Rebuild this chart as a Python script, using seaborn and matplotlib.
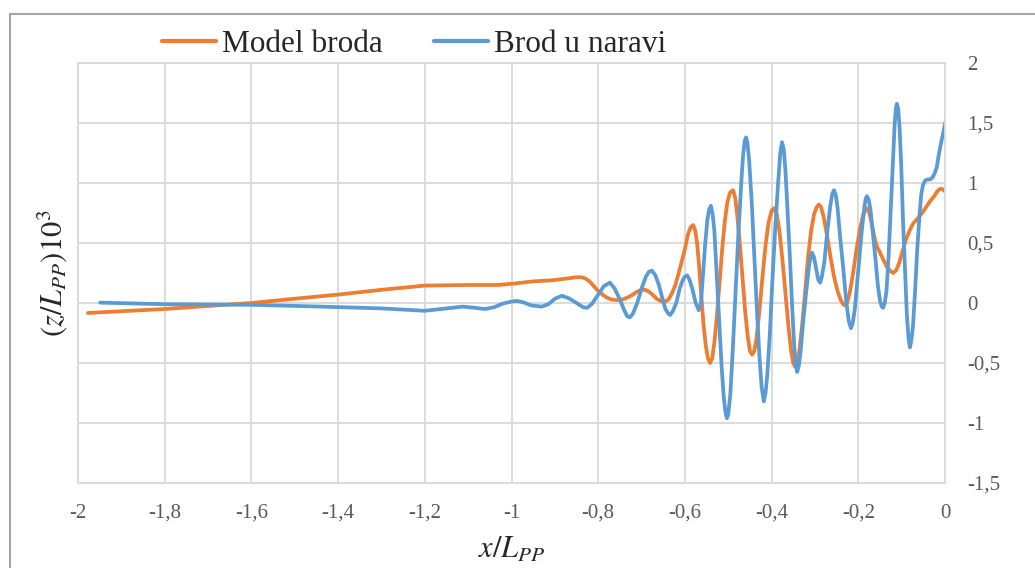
import pandas as pd
import matplotlib
matplotlib.use("Agg")
import matplotlib.pyplot as plt
import seaborn as sns
from matplotlib.patches import Rectangle

# Model broda (orange)
model_x = [-1.977, -1.8, -1.6, -1.488, -1.4, -1.3, -1.2, -1.1, -1.033, -1.0, -0.95, -0.904,
           -0.87, -0.85, -0.84, -0.83, -0.82, -0.81, -0.8, -0.79, -0.78, -0.77, -0.76, -0.75,
           -0.743, -0.73, -0.72, -0.71, -0.70, -0.692, -0.683, -0.675, -0.665, -0.655,
           -0.646, -0.638, -0.63, -0.622, -0.615, -0.607, -0.6, -0.593, -0.587, -0.581,
           -0.576, -0.572, -0.567, -0.562, -0.557, -0.552, -0.547, -0.542, -0.537, -0.532,
           -0.526, -0.52, -0.514, -0.508, -0.502, -0.496, -0.489, -0.484, -0.479, -0.473,
           -0.467, -0.461, -0.455, -0.45, -0.445, -0.44, -0.435, -0.428, -0.421, -0.414,
           -0.407, -0.4, -0.394, -0.388, -0.382, -0.375, -0.368, -0.361, -0.355, -0.35,
           -0.346, -0.341, -0.336, -0.33, -0.323, -0.316, -0.309, -0.302, -0.296, -0.291,
           -0.286, -0.28, -0.272, -0.264, -0.256, -0.248, -0.24, -0.235, -0.231, -0.226,
           -0.22, -0.212, -0.204, -0.196, -0.189, -0.183, -0.18, -0.176, -0.17, -0.163,
           -0.157, -0.15, -0.142, -0.134, -0.127, -0.12, -0.113, -0.106, -0.099, -0.09,
           -0.082, -0.074, -0.064, -0.055, -0.047, -0.04, -0.032, -0.025, -0.018, -0.012,
           -0.006, 0.0]
model_y = [-0.083, -0.05, 0.0, 0.04, 0.07, 0.11, 0.145, 0.15, 0.15, 0.16, 0.18, 0.19,
           0.205, 0.215, 0.215, 0.205, 0.18, 0.14, 0.1, 0.07, 0.045, 0.03, 0.025, 0.025,
           0.03, 0.05, 0.07, 0.095, 0.11, 0.11, 0.095, 0.07, 0.035, 0.015,
           0.01, 0.03, 0.08, 0.15, 0.24, 0.35, 0.45, 0.57, 0.63, 0.65,
           0.6, 0.5, 0.3, 0.05, -0.18, -0.35, -0.46, -0.5, -0.46, -0.33,
           -0.1, 0.18, 0.45, 0.68, 0.84, 0.92, 0.94, 0.88, 0.72, 0.48,
           0.2, -0.07, -0.28, -0.4, -0.43, -0.4, -0.3, -0.06, 0.22, 0.48,
           0.67, 0.77, 0.79, 0.74, 0.6, 0.36, 0.08, -0.2, -0.4, -0.5,
           -0.53, -0.5, -0.4, -0.2, 0.08, 0.38, 0.6, 0.74, 0.8, 0.82,
           0.8, 0.72, 0.56, 0.38, 0.22, 0.1, 0.02, -0.01, -0.02, 0.0,
           0.08, 0.25, 0.45, 0.62, 0.73, 0.78, 0.79, 0.77, 0.68, 0.55,
           0.47, 0.42, 0.36, 0.3, 0.27, 0.25, 0.27, 0.33, 0.42, 0.53,
           0.6, 0.66, 0.7, 0.74, 0.78, 0.82, 0.86, 0.89, 0.93, 0.95,
           0.95, 0.93]

# Brod u naravi (blue)
ship_x = [-1.949, -1.8, -1.6, -1.44, -1.3, -1.2, -1.15, -1.112, -1.085, -1.061, -1.04,
          -1.02, -1.0, -0.987, -0.972, -0.955, -0.93, -0.915, -0.9, -0.884, -0.868, -0.85,
          -0.835, -0.826, -0.815, -0.8, -0.787, -0.773, -0.762, -0.75, -0.74, -0.733,
          -0.727, -0.72, -0.71, -0.70, -0.69, -0.683, -0.676, -0.668, -0.66, -0.652,
          -0.645, -0.638, -0.634, -0.628, -0.62, -0.612, -0.605, -0.6, -0.595, -0.59,
          -0.583, -0.575, -0.568, -0.563, -0.558, -0.553, -0.548, -0.544, -0.54, -0.536,
          -0.532, -0.526, -0.52, -0.515, -0.51, -0.506, -0.503, -0.5, -0.495, -0.489,
          -0.483, -0.477, -0.47, -0.466, -0.462, -0.459, -0.456, -0.452, -0.446, -0.44,
          -0.434, -0.428, -0.423, -0.418, -0.414, -0.41, -0.404, -0.398, -0.392, -0.385,
          -0.38, -0.376, -0.372, -0.368, -0.363, -0.358, -0.353, -0.348, -0.344, -0.341,
          -0.337, -0.333, -0.327, -0.32, -0.313, -0.307, -0.302, -0.297, -0.292, -0.288,
          -0.284, -0.278, -0.272, -0.265, -0.26, -0.256, -0.252, -0.248, -0.242, -0.235,
          -0.228, -0.222, -0.217, -0.213, -0.208, -0.203, -0.198, -0.192, -0.186, -0.183,
          -0.18, -0.176, -0.172, -0.166, -0.16, -0.155, -0.15, -0.146, -0.143, -0.139,
          -0.135, -0.13, -0.125, -0.12, -0.116, -0.113, -0.111, -0.108, -0.105, -0.101,
          -0.097, -0.092, -0.088, -0.084, -0.081, -0.078, -0.074, -0.069, -0.064, -0.059,
          -0.055, -0.051, -0.046, -0.04, -0.034, -0.028, -0.023, -0.019, -0.015, -0.01,
          -0.004, 0.002]
ship_y = [0.003, -0.01, -0.015, -0.03, -0.045, -0.065, -0.045, -0.03, -0.04, -0.05, -0.035,
          -0.005, 0.012, 0.017, 0.005, -0.02, -0.03, -0.01, 0.035, 0.06, 0.04, 0.0,
          -0.035, -0.04, -0.01, 0.07, 0.14, 0.17, 0.12, 0.03, -0.06, -0.11,
          -0.12, -0.09, 0.0, 0.12, 0.22, 0.26, 0.27, 0.23, 0.15, 0.04,
          -0.05, -0.09, -0.1, -0.07, 0.0, 0.12, 0.19, 0.22, 0.23, 0.2,
          0.12, 0.0, -0.06, 0.0, 0.25, 0.5, 0.7, 0.78, 0.81, 0.74,
          0.6, 0.2, -0.2, -0.55, -0.8, -0.92, -0.96, -0.93, -0.75, -0.35,
          0.1, 0.55, 1.0, 1.22, 1.35, 1.38, 1.34, 1.2, 0.85, 0.4,
          -0.05, -0.45, -0.7, -0.82, -0.75, -0.6, -0.25, 0.2, 0.6, 1.0,
          1.25, 1.34, 1.28, 1.1, 0.75, 0.4, 0.0, -0.35, -0.52, -0.575,
          -0.52, -0.4, -0.15, 0.1, 0.33, 0.42, 0.38, 0.28, 0.19, 0.17,
          0.22, 0.35, 0.58, 0.8, 0.91, 0.94, 0.9, 0.8, 0.55, 0.3,
          0.02, -0.15, -0.21, -0.17, -0.05, 0.15, 0.35, 0.6, 0.8, 0.87,
          0.89, 0.86, 0.78, 0.57, 0.35, 0.15, 0.02, -0.03, -0.04, 0.0,
          0.1, 0.4, 0.8, 1.2, 1.5, 1.63, 1.66, 1.62, 1.48, 1.15,
          0.7, 0.25, -0.1, -0.3, -0.37, -0.32, -0.2, 0.1, 0.45, 0.72,
          0.9, 0.98, 1.02, 1.03, 1.03, 1.05, 1.09, 1.13, 1.22, 1.32,
          1.42, 1.52]

series_names = ["Model broda", "Brod u naravi"]
x_ticks = [-2, -1.8, -1.6, -1.4, -1.2, -1, -0.8, -0.6, -0.4, -0.2, 0]
x_tick_labels = ["-2", "-1,8", "-1,6", "-1,4", "-1,2", "-1", "-0,8", "-0,6", "-0,4", "-0,2", "0"]
y_ticks = [-1.5, -1, -0.5, 0, 0.5, 1, 1.5, 2]
y_tick_labels = ["-1,5", "-1", "-0,5", "0", "0,5", "1", "1,5", "2"]

df = pd.concat([
    pd.DataFrame({"x": model_x, "y": model_y, "serie": series_names[0]}),
    pd.DataFrame({"x": ship_x, "y": ship_y, "serie": series_names[1]}),
])

sns.set_style("white")
plt.rcParams["font.family"] = ["Liberation Serif", "DejaVu Serif"]
plt.rcParams["mathtext.fontset"] = "stix"

fig = plt.figure(figsize=(10.35, 5.68), dpi=100)
ax = fig.add_axes([78 / 1035, 85 / 568, 867 / 1035, 420 / 568])

sns.lineplot(data=df, x="x", y="y", hue="serie", estimator=None, sort=False,
             palette=["#ED7D31", "#5B9BD5"], linewidth=2.7, ax=ax)
for line in ax.lines:
    line.set_solid_joinstyle("round")
    line.set_solid_capstyle("round")

grid_c = "#d9d9d9"
ax.set_xlim(-2, 0)
ax.set_ylim(-1.5, 2)
ax.set_xticks(x_ticks)
ax.set_xticklabels(x_tick_labels)
ax.set_yticks(y_ticks)
ax.set_yticklabels(y_tick_labels)
ax.yaxis.tick_right()
ax.tick_params(axis="both", length=0, labelsize=15, colors="#595959")
ax.tick_params(axis="x", pad=15)
ax.tick_params(axis="y", pad=16)
ax.grid(True, color=grid_c, linewidth=1.3)
for s in ax.spines.values():
    s.set_color(grid_c)
    s.set_linewidth(1.3)

ax.set_xlabel(r"$x/L_{PP}$", fontsize=22)
ax.xaxis.set_label_coords(0.5, -0.125)
ax.yaxis.set_label_position("left")
ax.set_ylabel(r"$(z/L_{PP})10^3$", fontsize=22)
ax.yaxis.set_label_coords(-0.01, 0.5)

handles, labels = ax.get_legend_handles_labels()
for h in handles:
    h.set_linewidth(3)
ax.legend(handles, labels, ncol=2, frameon=False, fontsize=22.5, loc="center",
          bbox_to_anchor=(414 / 1035, 1 - 44 / 568), bbox_transform=fig.transFigure,
          handlelength=1.73, handletextpad=0.19, columnspacing=1.66)

fig.patches.append(Rectangle((9.5 / 1035, -0.1), 2, 1 - 14 / 568 + 0.1,
                             transform=fig.transFigure, fill=False,
                             edgecolor="#a6a6a6", linewidth=1.5))

fig.savefig("out.png", dpi=100)
